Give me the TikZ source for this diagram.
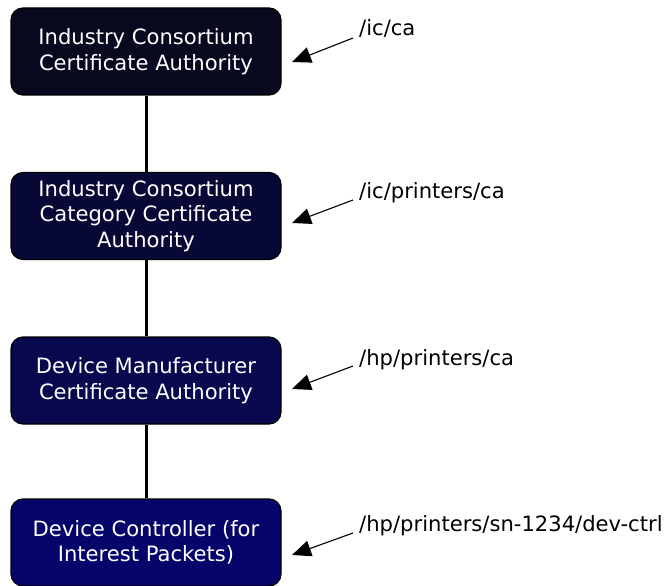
\documentclass[tikz,border=0pt]{standalone}
\usepackage{fontspec}
\setmainfont{DejaVu Sans}
\usetikzlibrary{arrows.meta}
\definecolor{caone}{HTML}{08081F}
\definecolor{catwo}{HTML}{080836}
\definecolor{cathree}{HTML}{08084E}
\definecolor{cafour}{HTML}{04046A}
\begin{document}
\begin{tikzpicture}[x=1pt,y=-1pt,
  cabox/.style={draw=black,line width=1.2pt,rounded corners=12pt,minimum width=270pt,minimum height=87pt,
    align=center,text=white,font=\fontsize{21.1}{25.5}\selectfont,inner sep=0pt},
  namelabel/.style={anchor=base west,font=\fontsize{21.1}{25}\selectfont,inner sep=0pt},
  pointer/.style={line width=1.1pt,-{Triangle[length=19pt,width=16pt]}},
  chain/.style={line width=3pt}]
\useasboundingbox (0,0) rectangle (665,586);
\node[cabox,fill=caone] (ica) at (146,51.5) {Industry Consortium\\Certificate Authority};
\node[cabox,fill=catwo] (icp) at (146,216) {Industry Consortium\\Category Certificate\\Authority};
\node[cabox,fill=cathree] (hpca) at (146,380.5) {Device Manufacturer\\Certificate Authority};
\node[cabox,fill=cafour] (dev) at (146,542.5) {Device Controller (for\\Interest Packets)};
\draw[chain] (ica) -- (icp);
\draw[chain] (icp) -- (hpca);
\draw[chain] (hpca) -- (dev);
\node[namelabel] (l1) at (359,36) {/ic/ca};
\node[namelabel] (l2) at (359,198) {/ic/printers/ca};
\node[namelabel] (l3) at (359,365) {/hp/printers/ca};
\node[namelabel] (l4) at (359,531) {/hp/printers/sn-1234/dev-ctrl};
\coordinate (a1s) at (353,38); \coordinate (a1e) at (292,62);
\coordinate (a2s) at (353,200); \coordinate (a2e) at (292,223);
\coordinate (a3s) at (353,366); \coordinate (a3e) at (292,389);
\coordinate (a4s) at (353,533); \coordinate (a4e) at (292,555);
\draw[pointer] (a1s) -- (a1e);
\draw[pointer] (a2s) -- (a2e);
\draw[pointer] (a3s) -- (a3e);
\draw[pointer] (a4s) -- (a4e);
\end{tikzpicture}
\end{document}
